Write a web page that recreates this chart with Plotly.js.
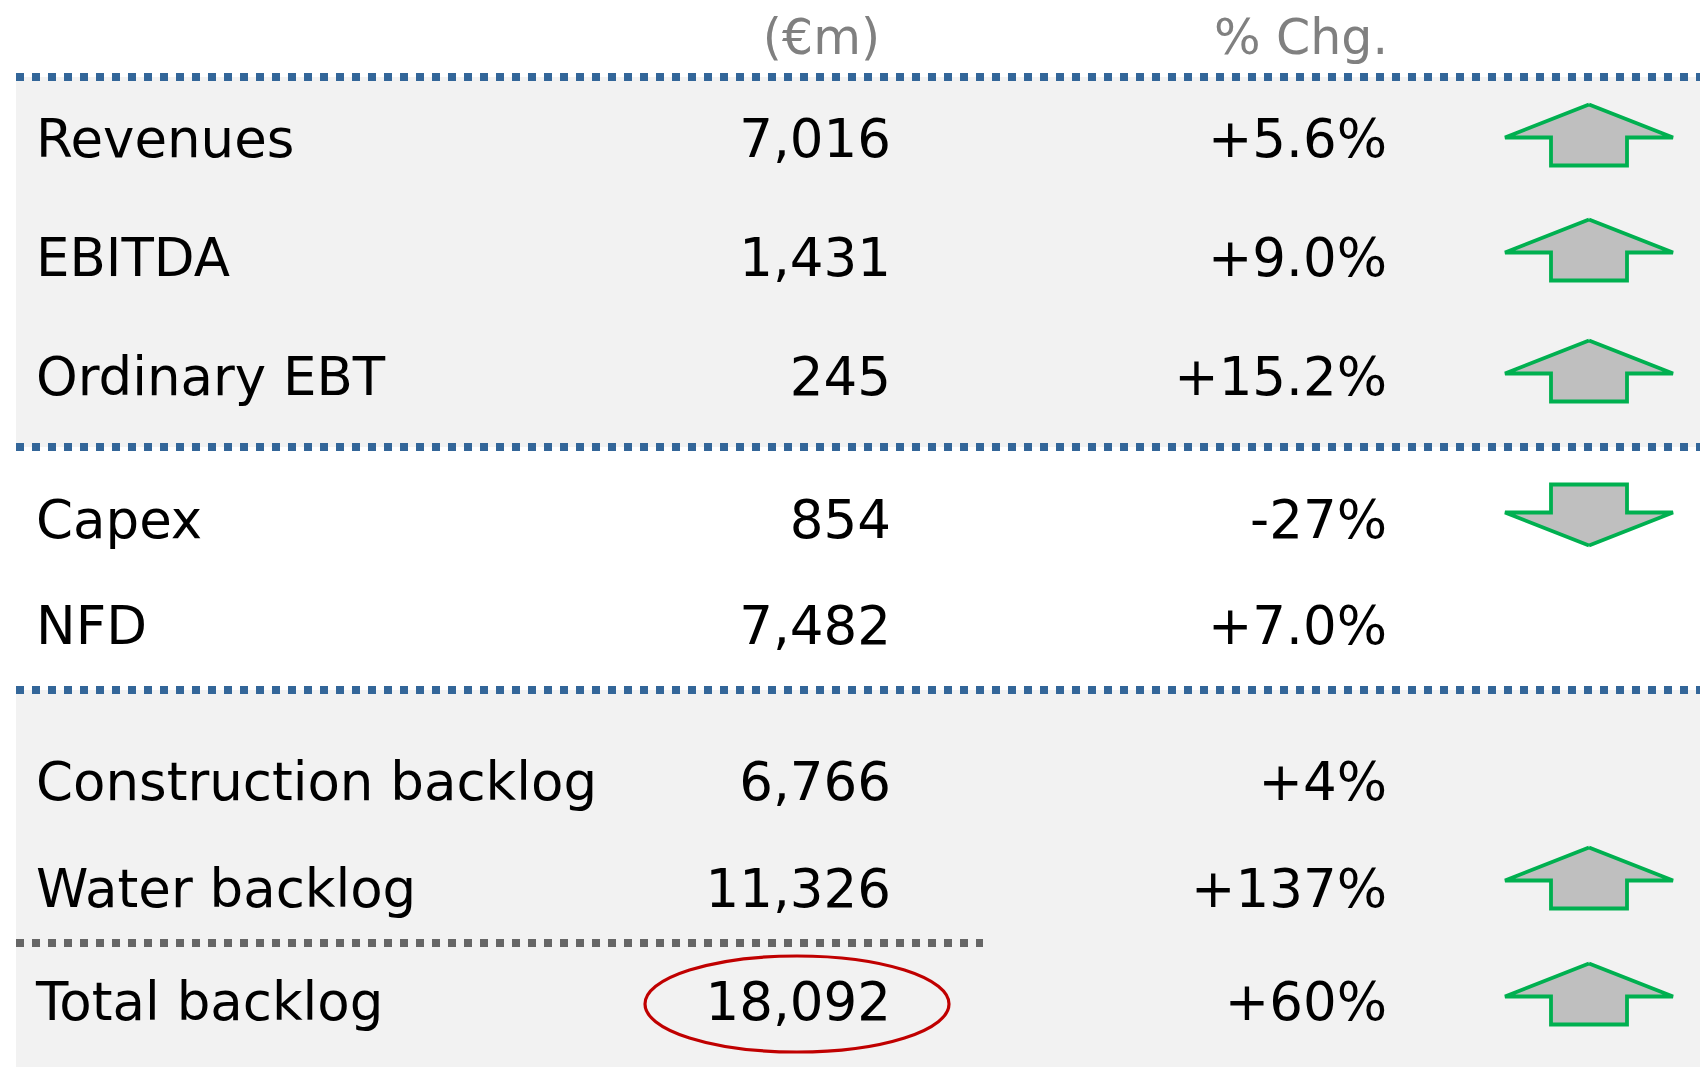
<!DOCTYPE html>
<html>
<head>
<meta charset="utf-8">
<script src="https://cdn.plot.ly/plotly-3.0.1.min.js"></script>
<style>html,body{margin:0;padding:0;background:#fff;}#chart{width:1700px;height:1067px;}</style>
</head>
<body>
<div id="chart"></div>
<script>
// ---- data ----
const labels = ['Revenues', 'EBITDA', 'Ordinary EBT', 'Capex', 'NFD', 'Construction backlog', 'Water backlog', 'Total backlog'];
const values = [7016, 1431, 245, 854, 7482, 6766, 11326, 18092];
const pctChg = ['+5.6%', '+9.0%', '+15.2%', '-27%', '+7.0%', '+4%', '+137%', '+60%'];
const trend = ['up', 'up', 'up', 'down', null, null, 'up', 'up'];
const highlight = [false, false, false, false, false, false, false, true];
const headers = ['(€m)', '% Chg.'];

// ---- layout constants ----
const W = 1700, H = 1067;
const rowY = [144, 263, 382, 525, 631, 787, 894, 1007];
const arrowY = [135, 250, 371, 515, null, null, 878, 994];
const sepY = [77, 447, 690];
const subSepY = 943;
const xLabel = 36, xValue = 891, xPct = 1387, xArrow = 1589, headerY = 42;
const headerX = [880, 1388];
const font = 'DejaVu Sans, Verdana, sans-serif';
const bodySize = 53, headSize = 49;

const fmt = v => v.toLocaleString('en-US');

const traces = [];
// labels
traces.push({type: 'scatter', mode: 'text', x: labels.map(() => xLabel), y: rowY,
  text: labels, textposition: 'middle right', hoverinfo: 'skip',
  textfont: {family: font, size: bodySize, color: '#000'}});
// values
traces.push({type: 'scatter', mode: 'text', x: values.map(() => xValue), y: rowY,
  text: values.map(fmt), textposition: 'middle left', hoverinfo: 'skip',
  textfont: {family: font, size: bodySize, color: '#000'}});
// pct
traces.push({type: 'scatter', mode: 'text', x: pctChg.map(() => xPct), y: rowY,
  text: pctChg, textposition: 'middle left', hoverinfo: 'skip',
  textfont: {family: font, size: bodySize, color: '#000'}});
// headers
traces.push({type: 'scatter', mode: 'text', x: headerX, y: [headerY, headerY],
  text: headers, textposition: 'middle left', hoverinfo: 'skip',
  textfont: {family: font, size: headSize, color: '#808080'}});

// arrows
const aw = 84, sw = 38, hh = 33, ht = 61;
trend.forEach((t, i) => {
  if (!t) return;
  const cy = arrowY[i];
  const top = cy - ht / 2, bot = cy + ht / 2;
  let xs, ys;
  if (t === 'up') {
    const sh = top + hh;
    xs = [xArrow, xArrow + aw, xArrow + sw, xArrow + sw, xArrow - sw, xArrow - sw, xArrow - aw, xArrow];
    ys = [top, sh, sh, bot, bot, sh, sh, top];
  } else {
    const sh = bot - hh;
    xs = [xArrow, xArrow + aw, xArrow + sw, xArrow + sw, xArrow - sw, xArrow - sw, xArrow - aw, xArrow];
    ys = [bot, sh, sh, top, top, sh, sh, bot];
  }
  traces.push({type: 'scatter', mode: 'lines', x: xs, y: ys, fill: 'toself',
    fillcolor: '#BFBFBF', line: {color: '#00B050', width: 3.8}, hoverinfo: 'skip'});
});

const shapes = [];
// backgrounds
shapes.push({type: 'rect', xref: 'x', yref: 'y', x0: 16, x1: W, y0: sepY[0], y1: sepY[1], fillcolor: '#F2F2F2', line: {width: 0}, layer: 'below'});
shapes.push({type: 'rect', xref: 'x', yref: 'y', x0: 16, x1: W, y0: sepY[2], y1: H, fillcolor: '#F2F2F2', line: {width: 0}, layer: 'below'});
// separators
sepY.forEach(y => shapes.push({type: 'line', xref: 'x', yref: 'y', x0: 16, x1: W, y0: y, y1: y,
  line: {color: '#336699', width: 8, dash: '8px,8px'}}));
shapes.push({type: 'line', xref: 'x', yref: 'y', x0: 16, x1: 983, y0: subSepY, y1: subSepY,
  line: {color: '#666666', width: 8, dash: '8px,8px'}});
// highlight ellipse
highlight.forEach((h, i) => {
  if (!h) return;
  const cx = xValue - 94, cy = rowY[i] - 3;
  shapes.push({type: 'circle', xref: 'x', yref: 'y', x0: cx - 152, x1: cx + 152, y0: cy - 48, y1: cy + 48,
    line: {color: '#C00000', width: 3.2}});
});

const layout = {
  width: W, height: H, margin: {l: 0, r: 0, t: 0, b: 0, pad: 0},
  paper_bgcolor: '#fff', plot_bgcolor: '#fff', showlegend: false,
  xaxis: {range: [0, W], visible: false, fixedrange: true},
  yaxis: {range: [H, 0], visible: false, fixedrange: true},
  shapes: shapes
};
Plotly.newPlot('chart', traces, layout, {staticPlot: true, displayModeBar: false});
</script>
</body>
</html>
